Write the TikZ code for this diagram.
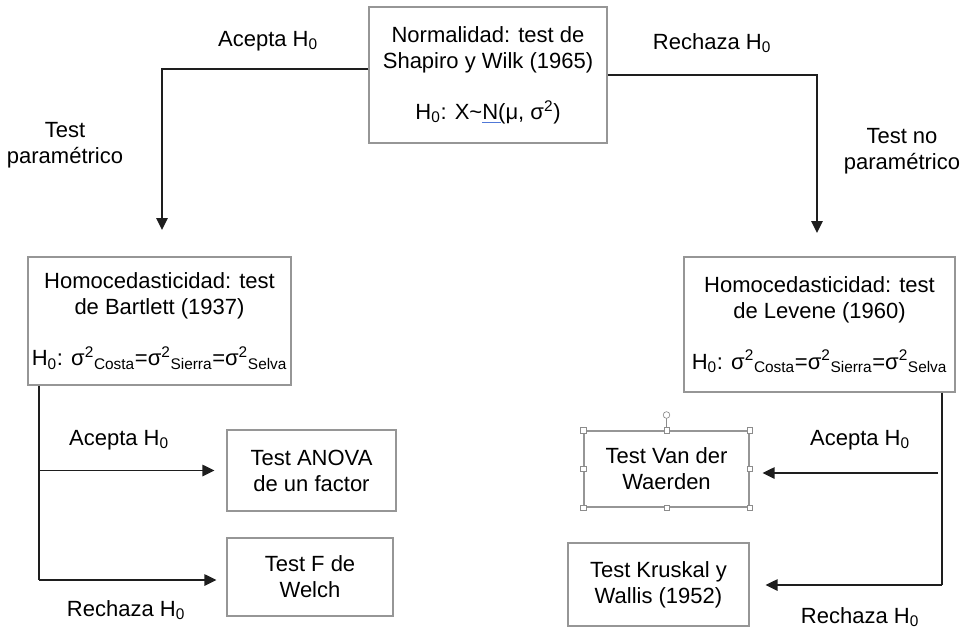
\documentclass[tikz,border=0pt]{standalone}
\usepackage{fontspec}
\setmainfont{Liberation Sans}
\usetikzlibrary{arrows.meta}
\definecolor{boxgray}{RGB}{150,150,150}
\definecolor{linedark}{RGB}{30,30,30}
\definecolor{spellblue}{RGB}{80,120,215}
\definecolor{handlegray}{RGB}{140,140,140}
\newcommand{\Hz}{H\textsubscript{0}}
\newcommand{\sgs}[1]{σ\textsuperscript{2}\textsubscript{#1}}
\newcommand{\blueul}[1]{\leavevmode\setbox0\hbox{#1}\rlap{\textcolor{spellblue}{\rule[-2.5pt]{\dimexpr\wd0+2pt\relax}{0.8pt}}}\box0}
\begin{document}
\begin{tikzpicture}[x=0.75pt,y=-0.75pt,
  txt/.style={font=\fontsize{16.5}{19.5}\selectfont},
  box/.style={txt,draw=boxgray,line width=0.8pt,align=center,inner sep=0pt},
  lbl/.style={txt,align=center,inner sep=0pt},
  conn/.style={draw=linedark,line width=1.2pt},
  arr/.style={conn,-{Triangle[length=9pt,width=8.5pt]}},
  handle/.style={draw=handlegray,fill=white,line width=0.5pt,minimum size=4pt,inner sep=0pt}
]
\useasboundingbox (0,0) rectangle (963,628);

% boxes
\node[box,minimum width=178.5pt,minimum height=102pt] (top) at (488,75)
  {Normalidad: test de\\Shapiro y Wilk (1965)\\[19pt]\Hz: X\textasciitilde\blueul{N}(μ, σ\textsuperscript{2})};
\node[box,minimum width=197.25pt,minimum height=96pt] (bart) at (159.5,321)
  {Homocedasticidad: test\\de Bartlett (1937)\\[19pt]\Hz: \sgs{Costa}=\sgs{Sierra}=\sgs{Selva}};
\node[box,minimum width=203.25pt,minimum height=101.25pt] (lev) at (819.5,324.5)
  {Homocedasticidad: test\\de Levene (1960)\\[19pt]\Hz: \sgs{Costa}=\sgs{Sierra}=\sgs{Selva}};
\node[box,minimum width=126.75pt,minimum height=60.75pt] (anova) at (311.5,470.5)
  {Test ANOVA\\de un factor};
\node[box,minimum width=124.5pt,minimum height=58.5pt] (welch) at (310,577)
  {Test F de\\Welch};
\node[box,minimum width=123.75pt,minimum height=57pt] (vdw) at (666.5,469)
  {Test Van der\\Waerden};
\node[box,minimum width=135.75pt,minimum height=62.25pt] (krus) at (658.5,584.5)
  {Test Kruskal y\\Wallis (1952)};

% selection handles on the Van der Waerden box
\coordinate (rot) at (666.5,415);
\draw[handlegray,line width=0.5pt] (vdw.north) -- (rot);
\node[draw=handlegray,fill=white,circle,line width=0.5pt,minimum size=5pt,inner sep=0pt] (roth) at (rot) {};
\foreach \a in {north west,north,north east,east,south east,south,south west,west}
  \node[handle] at (vdw.\a) {};

% labels
\node[lbl] (la1) at (268,41) {Acepta \Hz};
\node[lbl] (lp1) at (65,145) {Test\\paramétrico};
\node[lbl] (lr1) at (712,43) {Rechaza \Hz};
\node[lbl] (lp2) at (902,151) {Test no\\paramétrico};
\node[lbl] (la2) at (119,440) {Acepta \Hz};
\node[lbl] (lr2) at (126,610) {Rechaza \Hz};
\node[lbl] (la3) at (860,440) {Acepta \Hz};
\node[lbl] (lr3) at (860,617) {Rechaza \Hz};

% top connectors
\coordinate (a1) at (162,230);
\coordinate (a2) at (817,233);
\draw[arr] ([yshift=4.5pt]top.west) -| (a1);
\draw[arr] (top.east) -| (a2);

% lower left
\coordinate (lv) at (39,580);
\draw[conn] (bart.south -| lv) -- (lv);
\draw[arr,shorten >=9pt] (lv |- anova.west) -- (anova.west);
\draw[arr,shorten >=7.5pt] (lv) -- (lv -| welch.west);

% lower right
\coordinate (rv) at (942,585);
\coordinate (ra) at (938,473);
\draw[conn] (lev.south -| rv) -- (rv);
\draw[arr,shorten >=9.75pt] (ra) -- (ra -| vdw.east);
\draw[arr,shorten >=12pt] (rv) -- (rv -| krus.east);
\end{tikzpicture}
\end{document}
